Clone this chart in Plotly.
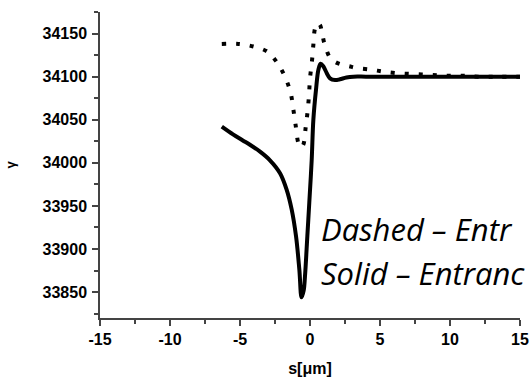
import plotly.graph_objects as go

# Dashed curve (entrance, case A)
dash_s = [-6.3, -5.1, -4.05, -3.05, -2.38, -1.79, -1.38, -1.19, -1.02, -0.83, -0.65, -0.48,
          -0.31, -0.17, -0.07, 0.0, 0.14, 0.24, 0.36, 0.55, 0.71, 0.85, 1.0, 1.2, 1.43, 1.8,
          2.26, 2.8, 3.33, 4.4, 5.2, 6.24, 7.4, 8.6, 9.76, 10.9, 12.0, 13.5, 15.0]
dash_g = [34138, 34138, 34135, 34129, 34117, 34100, 34081, 34062, 34043, 34023, 34018, 34021,
          34041, 34060, 34079, 34098, 34118, 34137, 34156, 34162, 34160, 34152, 34140, 34130, 34122, 34117,
          34114, 34112, 34110, 34108, 34106, 34104, 34103, 34102, 34101, 34101, 34100, 34100, 34100]

# Solid curve (entrance, case B)
solid_s = [-6.3, -5.5, -4.8, -4.29, -3.57, -2.86, -2.14, -1.67, -1.31, -1.0, -0.76, -0.6,
           -0.45, -0.36, -0.19, -0.05, 0.12, 0.24, 0.43, 0.6, 0.76, 0.95, 1.2, 1.43, 1.79,
           2.14, 2.6, 3.1, 4.0, 6.0, 8.0, 10.0, 12.0, 15.0]
solid_g = [34042, 34033, 34026, 34021, 34013, 34003, 33988, 33969, 33946, 33915, 33876, 33844,
           33852, 33868, 33915, 33954, 34003, 34050, 34085, 34108, 34115, 34112, 34104, 34098, 34096,
           34097, 34099, 34100, 34100, 34100, 34100, 34100, 34100, 34100]

x_ticks = [-15, -10, -5, 0, 5, 10, 15]
y_ticks = [33850, 33900, 33950, 34000, 34050, 34100, 34150]

fig = go.Figure()
fig.add_trace(go.Scatter(x=dash_s, y=dash_g, mode="lines", line_shape="spline",
                         line=dict(color="black", width=4, dash="4px,10px"), showlegend=False))
fig.add_trace(go.Scatter(x=solid_s, y=solid_g, mode="lines", line_shape="spline",
                         line=dict(color="black", width=4), showlegend=False))

tick_font = dict(family="Liberation Sans, Arial", size=16, color="black", weight="bold")

fig.update_layout(
    width=532, height=377,
    margin=dict(l=100, r=12, t=12, b=59),
    paper_bgcolor="white", plot_bgcolor="white",
    xaxis=dict(range=[-15, 15], tickvals=x_ticks, ticktext=[str(v) for v in x_ticks],
               automargin=False,
               showgrid=False, zeroline=False, showline=True, linecolor="#444", linewidth=1.5,
               ticks="outside", ticklen=6, tickcolor="#444", tickwidth=1.5, tickfont=tick_font,
               ticklabelstandoff=0,
               minor=dict(dtick=2.5, ticks="outside", ticklen=4, tickcolor="#444", tickwidth=1.5),
               title=dict(text="s[μm]", font=dict(family="Liberation Sans, Arial", size=16,
                                                   color="black", weight="bold"), standoff=18)),
    yaxis=dict(range=[33820, 34175], tickvals=y_ticks, ticktext=[str(v) for v in y_ticks],
               automargin=False,
               showgrid=False, zeroline=False, showline=True, linecolor="#444", linewidth=1.5,
               ticks="outside", ticklen=6, tickcolor="#444", tickwidth=1.5, tickfont=tick_font,
               ticklabelstandoff=2,
               minor=dict(dtick=25, ticks="outside", ticklen=4, tickcolor="#444", tickwidth=1.5),
               title=dict(text="γ", font=dict(family="Liberation Sans, Arial", size=13,
                                               color="black", weight="bold"), standoff=24)),
    annotations=[
        dict(text="<i>Dashed – Entr</i>", xref="paper", yref="paper", x=0.521, y=0.292,
             xanchor="left", yanchor="middle", showarrow=False,
             font=dict(family="Open Sans", size=31, color="black")),
        dict(text="<i>Solid – Entranc</i>", xref="paper", yref="paper", x=0.521, y=0.146,
             xanchor="left", yanchor="middle", showarrow=False,
             font=dict(family="Open Sans", size=31, color="black")),
    ],
)

fig.write_html("out.html")
